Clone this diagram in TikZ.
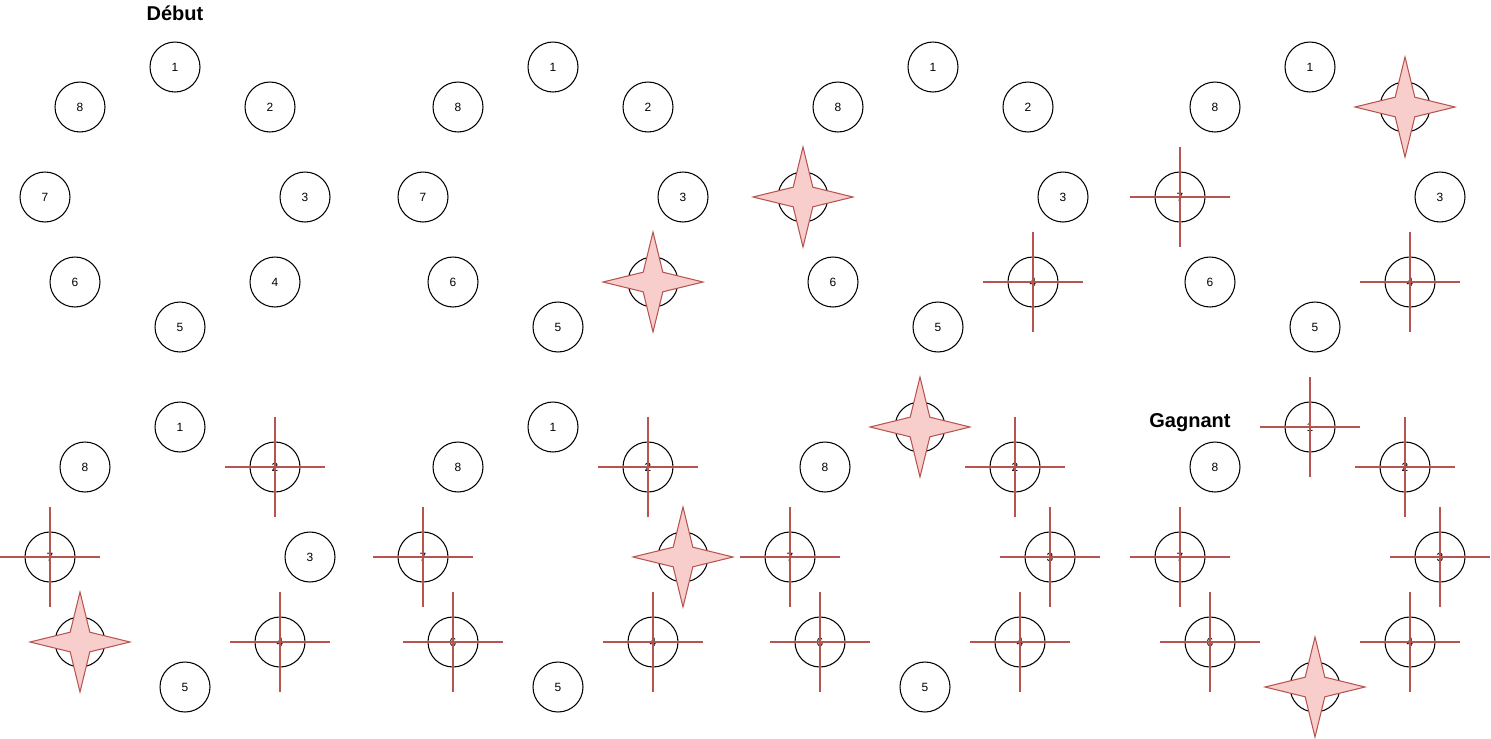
\documentclass[tikz,border=0pt]{standalone}
\usepackage{fontspec}
\setmainfont{Liberation Sans}
\usetikzlibrary{shapes.geometric}
\definecolor{rouge}{HTML}{B85450}
\definecolor{rose}{HTML}{F8CECC}

\begin{document}
\begin{tikzpicture}[
  x=0.02cm, y=-0.02cm,
  jeton/.style={draw, circle, line width=0.6pt, minimum size=1cm, inner sep=0pt, font=\fontsize{6.8}{8}\selectfont},
  croix/.style={draw=rouge, line width=0.6pt},
  etoile/.style={star, star points=4, star point ratio=3.6, draw=rouge, fill=rose, line width=0.6pt, minimum size=2cm, inner sep=0pt},
  titre/.style={font=\fontsize{11.4}{13}\selectfont\bfseries}
]
\useasboundingbox (0,0) rectangle (1491,738);

% les huit plateaux
\foreach \p/\dx/\dy in {1/0/0, 2/378/0, 3/758/0, 4/1135/0, 5/5/360, 6/378/360, 7/745/360, 8/1135/360}{
  \foreach \k/\x/\y in {1/175/67, 2/270/107, 3/305/197, 4/275/282, 5/180/327, 6/75/282, 7/45/197, 8/80/107}{
    \node[jeton] (p\p c\k) at (\x+\dx,\y+\dy) {\k};
  }
}

\node[titre] (debut) at (175,13) {Début};
\node[titre] (gagnant) at (1190,423) {Gagnant};

% jetons barres
\foreach \n in {p3c4, p4c4, p4c7, p5c2, p5c4, p5c7, p6c2, p6c4, p6c6, p6c7,
                p7c2, p7c3, p7c4, p7c6, p7c7, p8c1, p8c2, p8c3, p8c4, p8c6, p8c7}{
  \draw[croix] (\n.center) ++(-50,0) -- ++(100,0) (\n.center) ++(0,-50) -- ++(0,100);
}

% jetons joues
\node[etoile] (e2) at (p2c4) {};
\node[etoile] (e3) at (p3c7) {};
\node[etoile] (e4) at (p4c2) {};
\node[etoile] (e5) at (p5c6) {};
\node[etoile] (e6) at (p6c3) {};
\node[etoile] (e7) at (p7c1) {};
\node[etoile] (e8) at (p8c5) {};
\end{tikzpicture}
\end{document}
